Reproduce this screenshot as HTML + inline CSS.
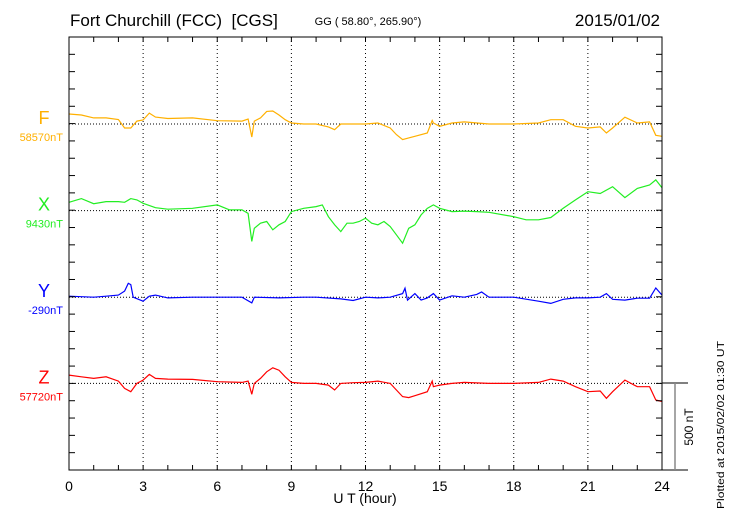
<!DOCTYPE html>
<html><head><meta charset="utf-8"><style>
html,body{margin:0;padding:0;background:#fff;}
svg{display:block;font-family:"Liberation Sans",sans-serif;}
</style></head><body>
<svg id="chart" width="730" height="520" viewBox="0 0 730 520" xmlns="http://www.w3.org/2000/svg">
<text x="70" y="26" font-size="17" style="white-space:pre" xml:space="preserve">Fort Churchill (FCC)  [CGS]</text>
<text x="368" y="25" font-size="11" text-anchor="middle">GG ( 58.80°, 265.90°)</text>
<text x="660" y="26" font-size="17" text-anchor="end">2015/01/02</text>
<g id="grid"></g>
<g id="series"></g>
<rect x="69" y="37" width="593" height="433" fill="none" stroke="#000" stroke-width="1"/>
<g id="axes"></g>
<text x="365" y="503" font-size="14" text-anchor="middle">U T (hour)</text>
<line x1="662" y1="383" x2="688" y2="383" stroke="#000"/>
<line x1="662" y1="470" x2="688" y2="470" stroke="#000"/>
<line x1="675" y1="383" x2="675" y2="470" stroke="#888" stroke-width="1.5"/>
<text x="0" y="0" font-size="12" text-anchor="middle" transform="translate(693,427) rotate(-90)">500 nT</text>
<text x="-84" y="0" font-size="10" textLength="168" lengthAdjust="spacingAndGlyphs" transform="translate(724,425) rotate(-90)">Plotted at 2015/02/02 01:30 UT</text>
</svg>
<script>
const hourTicks = [0,3,6,9,12,15,18,21,24];
const seriesNames = ["F","X","Y","Z"];
const baselineLabels = ["58570nT","9430nT","-290nT","57720nT"];
const seriesColors = ["#ffb000","#22ee22","#0000ff","#ff0000"];
const Fh = [0,0.5,1,1.5,2,2.25,2.5,2.75,3,3.25,3.5,4,5,6,7,7.25,7.4,7.5,7.75,8,8.25,8.5,8.75,9,9.5,10,10.5,10.75,11,12,12.5,13,13.25,13.5,13.75,14,14.5,14.7,14.75,15,15.5,16,17,18,19,19.5,20,20.5,21,21.5,21.75,22,22.5,23,23.5,23.75,24];
const Fv = [58,52,35,35,26,-23,-23,17,23,63,40,32,35,19,17,29,-75,17,35,73,75,52,25,6,0,0,-17,-33,0,0,6,-23,-61,-90,-80,-71,-52,20,6,-13,6,12,0,0,6,25,25,-13,-23,-17,-52,-23,39,6,12,-65,-71];
const Xh = [0,0.5,1,1.5,2,2.25,2.5,2.75,3,3.5,4,5,6,6.5,7,7.25,7.4,7.5,7.75,8,8.25,8.5,8.75,9,9.5,10,10.25,10.5,10.75,11,11.25,11.5,11.75,12,12.25,12.5,12.75,13,13.25,13.5,13.75,14,14.25,14.5,14.75,15,15.5,16,16.5,17,18,18.5,19,19.5,20,20.5,21,21.5,22,22.5,23,23.5,23.75,24];
const Xv = [48,69,40,52,52,48,69,62,42,17,8,13,33,4,4,-16,-178,-102,-73,-63,-111,-82,-63,-6,13,23,33,-35,-82,-121,-73,-73,-63,-44,-73,-82,-63,-92,-140,-188,-102,-82,-25,13,33,13,-6,-3,-6,-10,-35,-53,-53,-40,13,62,109,99,138,75,128,148,177,132];
const Yh = [0,1,1.5,2,2.25,2.4,2.5,2.6,3,3.25,3.5,4,5,6,7,7.4,7.5,8.5,9.5,10,11,11.5,12,12.5,13,13.5,13.6,13.7,14,14.25,14.5,14.75,15,15.5,16,16.5,16.7,17,18,19,19.5,20,20.5,21,21.5,21.75,22,22.5,23,23.5,23.75,24];
const Yv = [6,0,6,12,35,80,73,0,-23,6,12,-4,0,0,0,-33,0,-4,0,0,-10,-19,0,-4,0,21,52,-17,21,-17,-4,21,-17,8,0,16,30,0,0,-23,-36,-12,-4,-4,0,21,-12,-17,-6,-6,53,12];
const Zh = [0,0.5,1,1.5,2,2.25,2.5,2.75,3,3.25,3.5,4,5,6,7,7.25,7.4,7.5,7.75,8,8.25,8.5,8.75,9,9.5,10,10.5,10.75,11,11.5,12,12.5,13,13.25,13.5,13.75,14,14.5,14.7,14.75,15,15.5,16,17,18,19,19.5,20,20.5,21,21.5,21.75,22,22.5,23,23.5,23.75,24];
const Zv = [48,38,29,38,13,-29,-48,0,19,52,29,25,23,10,6,13,-63,0,29,67,90,76,38,6,0,0,-10,-38,0,4,6,13,0,-38,-76,-82,-71,-48,13,-19,-10,0,6,0,0,6,25,13,-19,-48,-44,-86,-48,19,-19,-19,-96,-105];

const svg = document.getElementById('chart');
const NS = 'http://www.w3.org/2000/svg';
const X0 = 69, X1 = 662, Y0 = 37, Y1 = 470;
const baselines = [124, 210.6, 297.2, 383.4];
const pxPerNT = 86.6 / 500;
function xs(h){ return X0 + (X1 - X0) * h / 24; }
function ys(i, v){ return baselines[i] - v * pxPerNT; }
function mk(tag, attrs, parent){
  const e = document.createElementNS(NS, tag);
  for (const k in attrs) e.setAttribute(k, attrs[k]);
  parent.appendChild(e); return e;
}
const grid = document.getElementById('grid');
const axes = document.getElementById('axes');
hourTicks.forEach(h => {
  if (h > 0 && h < 24) {
    const g = mk('line', {x1:xs(h), y1:Y0, x2:xs(h), y2:Y1, stroke:'#000', 'stroke-width':1, 'stroke-dasharray':'1,3'}, grid);
    
    
  }
  const t = mk('text', {x:xs(h), y:491, 'font-size':14, 'text-anchor':'middle'}, axes);
  t.textContent = h;
  
  
});
for (let h = 1; h < 24; h++) {
  const a = mk('line', {x1:xs(h), y1:Y0, x2:xs(h), y2:Y0+5, stroke:'#000'}, axes);
  
  
  const b = mk('line', {x1:xs(h), y1:Y1, x2:xs(h), y2:Y1-5, stroke:'#000'}, axes);
  
  
}
const step = 86.6 / 5;
for (let y = Y0 + step; y < Y1 - 1; y += step) {
  const a = mk('line', {x1:X0, y1:y, x2:X0+6, y2:y, stroke:'#000'}, axes);
  
  
  const b = mk('line', {x1:X1, y1:y, x2:X1-6, y2:y, stroke:'#000'}, axes);
  
  
}
const H = [Fh, Xh, Yh, Zh], V = [Fv, Xv, Yv, Zv];
const sg = document.getElementById('series');
seriesNames.forEach((n, i) => {
  const bl = mk('line', {x1:X0, y1:baselines[i], x2:X1, y2:baselines[i], stroke:'#000', 'stroke-dasharray':'1,2'}, grid);
  
  
  const pts = H[i].map((h, k) => xs(h).toFixed(1) + ',' + ys(i, V[i][k]).toFixed(1)).join(' ');
  const p = mk('polyline', {points:pts, fill:'none', stroke:seriesColors[i], 'stroke-width':1.2}, sg);
  
  
  const lab = mk('text', {x:44, y:baselines[i]-0, 'font-size':18, 'text-anchor':'middle', fill:seriesColors[i]}, axes);
  lab.textContent = n;
  
  
  const bv = mk('text', {x:63, y:baselines[i]+17, 'font-size':11, 'text-anchor':'end', fill:seriesColors[i]}, axes);
  bv.textContent = baselineLabels[i];
  
  
});
</script>
</body></html>
